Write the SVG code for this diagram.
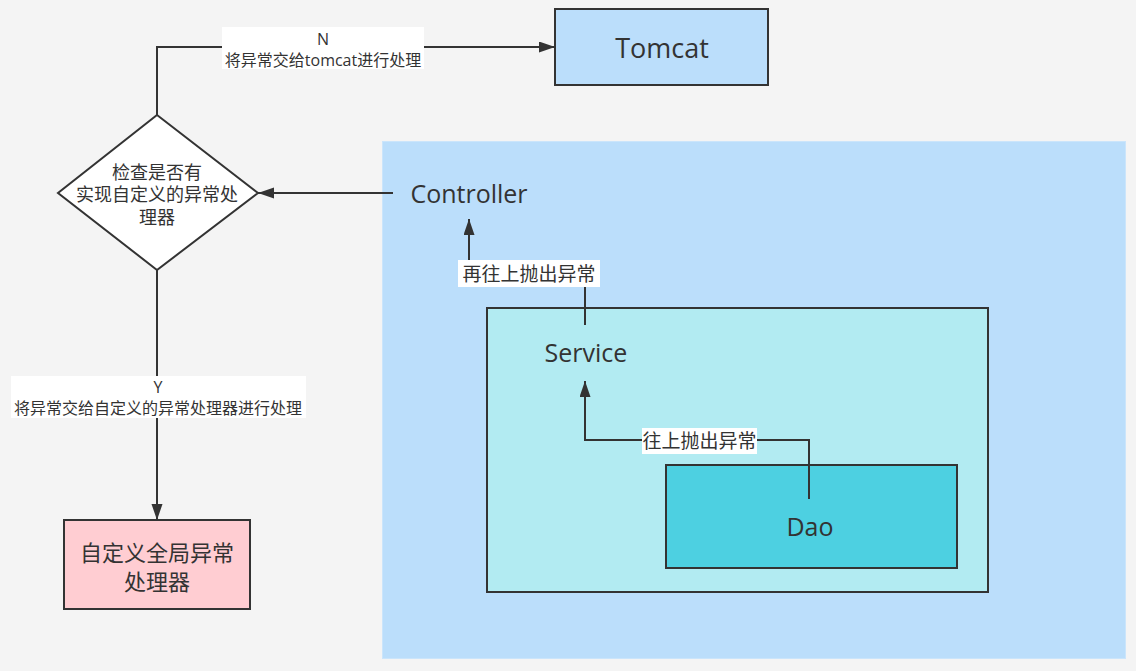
<svg xmlns="http://www.w3.org/2000/svg" width="1136" height="671" viewBox="0 0 1136 671">
<style>
text{font-family:"Open Sans","Noto Sans CJK SC",sans-serif;fill:#333;text-anchor:middle;dominant-baseline:central}
.box{stroke:#333;stroke-width:2}
.conn{fill:none;stroke:#333;stroke-width:2}
.lbl{fill:#fff}
.l16{font-size:16px}
.l19{font-size:19px}
</style>
<defs>
<marker id="arr" markerUnits="userSpaceOnUse" markerWidth="17" markerHeight="12" refX="16" refY="5.5" orient="auto">
<path d="M0,0 L16,5.5 L0,11 z" fill="#333"/>
</marker>
</defs>
<rect width="1136" height="671" fill="#f4f4f4"/>
<g id="area">
<rect x="382.5" y="141.5" width="743" height="517" fill="#bbdefb" stroke="#cbe5fb" stroke-width="1"/>
</g>
<g id="tomcat">
<rect class="box" x="555" y="9" width="213" height="76" fill="#bbdefb"/>
<text x="662" y="47" style="font-size:27px">Tomcat</text>
</g>
<g id="service">
<rect class="box" x="487" y="308" width="501" height="284" fill="#b2ebf2"/>
<text x="586" y="352" style="font-size:25px">Service</text>
</g>
<g id="dao">
<rect class="box" x="666" y="465" width="291" height="103" fill="#4dd0e1"/>
<text x="810" y="526" style="font-size:25px">Dao</text>
</g>
<g id="controller">
<text x="469" y="193" style="font-size:25px">Controller</text>
</g>
<g id="check">
<polygon class="box" points="157,115 258,193 157,270 58,193" fill="#fff"/>
<text x="157" y="172" style="font-size:18px">检查是否有</text>
<text x="157" y="194" style="font-size:18px">实现自定义的异常处</text>
<text x="157" y="217" style="font-size:18px">理器</text>
</g>
<g id="handler">
<rect class="box" x="64" y="520" width="186" height="89" fill="#ffcdd2"/>
<text x="157" y="552" style="font-size:22px">自定义全局异常</text>
<text x="157" y="581" style="font-size:22px">处理器</text>
</g>
<g id="connectors">
<path class="conn" d="M157,115 V47 H555" marker-end="url(#arr)"/>
<rect class="lbl" x="222" y="27" width="202" height="42"/>
<text class="l16" x="323" y="39">N</text>
<text class="l16" x="323" y="60">将异常交给tomcat进行处理</text>

<path class="conn" d="M393,193 H258" marker-end="url(#arr)"/>

<path class="conn" d="M585,325 V274 H469 V219" marker-end="url(#arr)"/>
<rect class="lbl" x="458" y="260" width="142" height="27"/>
<text class="l19" x="529" y="274">再往上抛出异常</text>

<path class="conn" d="M809,499 V440 H585 V381" marker-end="url(#arr)"/>
<rect class="lbl" x="642" y="428" width="115" height="26"/>
<text class="l19" x="699.5" y="441">往上抛出异常</text>

<path class="conn" d="M157,270 V520" marker-end="url(#arr)"/>
<rect class="lbl" x="11" y="376" width="295" height="42"/>
<text class="l16" x="158" y="387">Y</text>
<text class="l16" x="158" y="408">将异常交给自定义的异常处理器进行处理</text>
</g>
</svg>
